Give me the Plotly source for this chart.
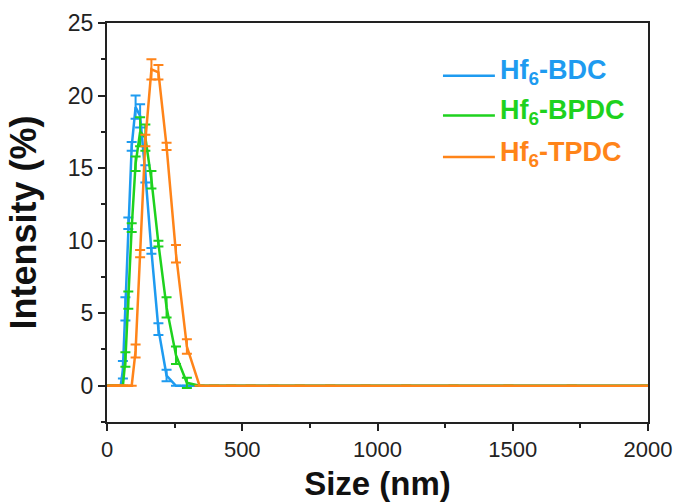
import plotly.graph_objects as go

# DLS size bins (nm)
sizes = [0.4, 24.36, 28.21, 32.67, 37.84, 43.82, 50.75, 58.77, 68.06, 78.82,
         91.28, 105.7, 122.4, 141.8, 164.2, 190.1, 220.2, 255.0, 295.3, 342.0,
         396.1, 458.7, 531.2, 615.1, 712.4, 825.0, 955.4, 1106, 1281, 1484,
         1718, 1990, 2305]

bdc = [0, 0, 0, 0, 0, 0, 0, 1.1, 5.3, 11.2, 16.5, 19.2, 18.6, 14.6, 9.3, 3.9,
       0.7, 0, 0, 0, 0, 0, 0, 0, 0, 0, 0, 0, 0, 0, 0, 0, 0]
bdc_err = [0, 0, 0, 0, 0, 0, 0, 0.6, 0.8, 0.4, 0.3, 0.8, 0.8, 0.6, 0.2, 0.4,
           0.4, 0, 0, 0, 0, 0, 0, 0, 0, 0, 0, 0, 0, 0, 0, 0, 0]

bpdc = [0, 0, 0, 0, 0, 0, 0, 0, 1.8, 5.9, 10.9, 15.3, 17.5, 17.1, 14.2, 9.8,
        5.4, 2.1, 0.2, 0, 0, 0, 0, 0, 0, 0, 0, 0, 0, 0, 0, 0, 0]
bpdc_err = [0, 0, 0, 0, 0, 0, 0, 0, 0.5, 0.6, 0.3, 0.5, 1.0, 0.9, 0.6, 0.2,
            0.7, 0.6, 0.35, 0, 0, 0, 0, 0, 0, 0, 0, 0, 0, 0, 0, 0, 0]

tpdc = [0, 0, 0, 0, 0, 0, 0, 0, 0, 0, 0, 2.4, 9.1, 16.9, 21.8, 21.6,
        16.5, 9.1, 2.7, 0, 0, 0, 0, 0, 0, 0, 0, 0, 0, 0, 0, 0, 0]
tpdc_err = [0, 0, 0, 0, 0, 0, 0, 0, 0, 0, 0, 0.45, 0.25, 0.4, 0.7, 0.5,
            0.25, 0.6, 0.5, 0, 0, 0, 0, 0, 0, 0, 0, 0, 0, 0, 0, 0, 0]

names = ["Hf<sub>6</sub>-BDC", "Hf<sub>6</sub>-BPDC", "Hf<sub>6</sub>-TPDC"]
colors = ["#1E9BF0", "#1ED21E", "#FF8419"]
values = [bdc, bpdc, tpdc]
errors = [bdc_err, bpdc_err, tpdc_err]

font_family = "Liberation Sans, Arial, sans-serif"

fig = go.Figure()
for name, vals, errs, color in zip(names, values, errors, colors):
    fig.add_trace(go.Scatter(
        x=sizes, y=vals, mode="lines", name=name,
        line=dict(color=color, width=2.5),
        error_y=dict(type="data", array=errs, visible=True,
                     color=color, thickness=2, width=5),
    ))

# legend drawn by hand so the line sample and coloured labels match
legend_y = [0.868, 0.768, 0.664]
for name, color, ly in zip(names, colors, legend_y):
    fig.add_shape(type="line", xref="paper", yref="paper",
                  x0=0.621, x1=0.717, y0=ly, y1=ly,
                  line=dict(color=color, width=2.5))
    fig.add_annotation(xref="paper", yref="paper", x=0.722, y=ly + 0.008,
                       xanchor="left", yanchor="middle", showarrow=False,
                       text=f"<b>{name}</b>",
                       font=dict(family=font_family, size=27, color=color))

axis_common = dict(
    showline=True, linecolor="#222", linewidth=2, mirror=True,
    ticks="outside", ticklen=7, tickwidth=2, tickcolor="#222",
    showgrid=False, zeroline=False, automargin=False,
)

fig.update_layout(
    width=680, height=502,
    margin=dict(l=107, r=32, t=23, b=80),
    plot_bgcolor="white", paper_bgcolor="white",
    font=dict(family=font_family),
    showlegend=False,
    xaxis=dict(range=[0, 2000], dtick=500,
               minor=dict(dtick=250, ticks="outside", ticklen=4, tickwidth=1.5, tickcolor="#222"),
               tickfont=dict(family=font_family, size=22, color="#222"),
               title=dict(text="<b>Size (nm)</b>", font=dict(family=font_family, size=33, color="#111"), standoff=12),
               **axis_common),
    yaxis=dict(range=[-2.5, 25], dtick=5,
               minor=dict(dtick=2.5, ticks="outside", ticklen=4, tickwidth=1.5, tickcolor="#222"),
               tickfont=dict(family=font_family, size=23, color="#222"),
               title=dict(text="<b>Intensity (%)</b>", font=dict(family=font_family, size=36, color="#111"), standoff=20),
               **axis_common),
)

fig.write_html("out.html", config={"displayModeBar": False},
               post_script="document.body.style.margin='0';")
